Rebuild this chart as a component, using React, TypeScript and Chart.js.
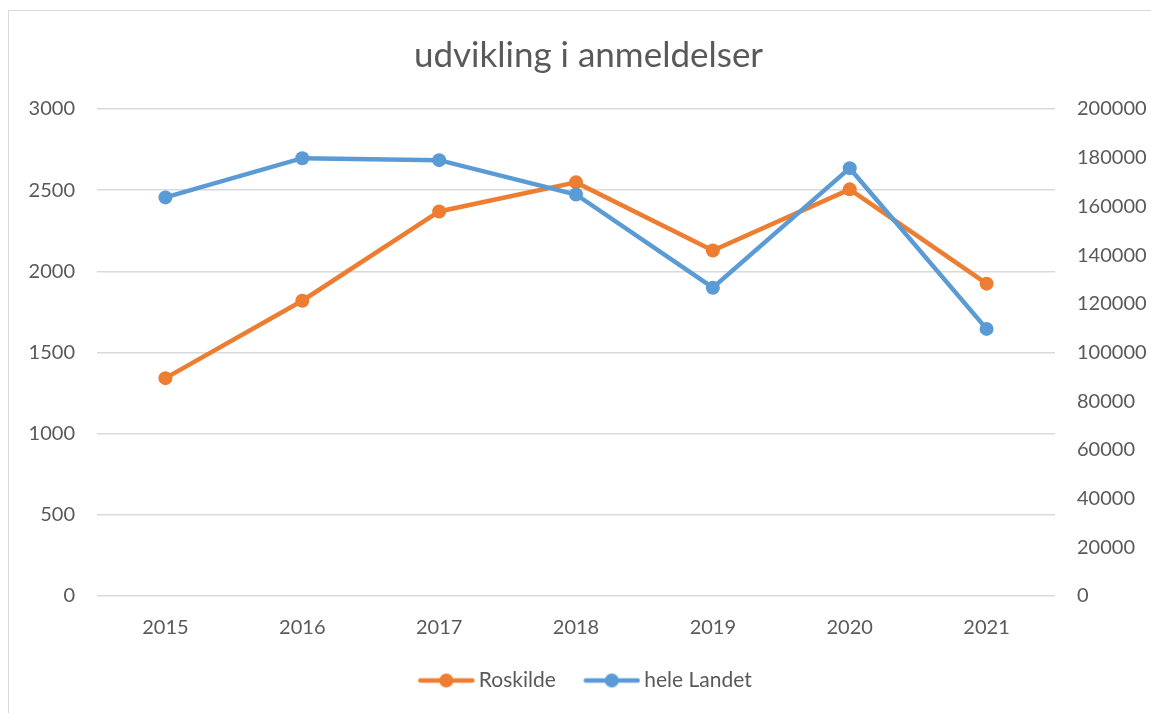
import React, { useEffect, useRef } from "react";
import { Chart, registerables } from "chart.js";

Chart.register(...registerables);

const years = ["2015", "2016", "2017", "2018", "2019", "2020", "2021"];
const roskilde = [1342, 1819, 2369, 2548, 2128, 2505, 1924];
const heleLandet = [163700, 179800, 179000, 164900, 126600, 175700, 109700];
const leftTicks = { min: 0, max: 3000, step: 500 };
const rightTicks = { min: 0, max: 200000, step: 20000 };

const ORANGE = "#ED7D31";
const BLUE = "#5B9BD5";
const TEXT = "#595959";
const GRID = "#D9D9D9";
const FONT = "Lato, 'Open Sans', sans-serif";

const LEG_W = 68;
const LEG_C = LEG_W + 13;

function legendIcon(color: string) {
  const c = document.createElement("canvas");
  c.width = LEG_C;
  c.height = 16;
  const ctx = c.getContext("2d")!;
  const end = LEG_C - 2.5;
  const start = LEG_C - 54.5;
  ctx.strokeStyle = color;
  ctx.lineWidth = 4.5;
  ctx.lineCap = "round";
  ctx.beginPath();
  ctx.moveTo(start, 8);
  ctx.lineTo(end, 8);
  ctx.stroke();
  ctx.fillStyle = color;
  ctx.beginPath();
  ctx.arc((start + end) / 2, 8, 7, 0, Math.PI * 2);
  ctx.fill();
  return c;
}

export default function App() {
  const ref = useRef<HTMLCanvasElement>(null);
  useEffect(() => {
    const icons = [legendIcon(ORANGE), legendIcon(BLUE)];
    const fmt = (v: any) => String(v);
    const chart = new Chart(ref.current!, {
      type: "line",
      data: {
        labels: years,
        datasets: [
          {
            label: "Roskilde",
            data: roskilde,
            yAxisID: "y",
            borderColor: ORANGE,
            backgroundColor: ORANGE,
            borderWidth: 4.5,
            pointRadius: 7,
            pointHoverRadius: 7,
            pointBorderWidth: 0,
            tension: 0,
            order: 1,
          },
          {
            label: "hele Landet",
            data: heleLandet,
            yAxisID: "y1",
            borderColor: BLUE,
            backgroundColor: BLUE,
            borderWidth: 4.5,
            pointRadius: 7,
            pointHoverRadius: 7,
            pointBorderWidth: 0,
            tension: 0,
            order: 0,
          },
        ],
      },
      options: {
        animation: false,
        responsive: false,
        maintainAspectRatio: false,
        layout: { padding: { top: 16, bottom: 12, left: 26, right: 0 } },
        plugins: {
          title: {
            display: true,
            text: "udvikling i anmeldelser",
            color: TEXT,
            font: { family: FONT, size: 35, weight: "normal" },
            padding: { top: 19, bottom: 32 },
          },
          legend: {
            position: "bottom",
            fullSize: false,
            labels: {
              usePointStyle: true,
              pointStyleWidth: LEG_W,
              padding: 10,
              color: TEXT,
              font: { family: FONT, size: 21 },
              generateLabels: (chart: any) =>
                chart.data.datasets.map((ds: any, i: number) => ({
                  text: ds.label,
                  fillStyle: ds.borderColor,
                  strokeStyle: ds.borderColor,
                  lineWidth: 0,
                  pointStyle: icons[i],
                  hidden: false,
                  datasetIndex: i,
                  fontColor: TEXT,
                })),
            },
          },
          tooltip: { enabled: false },
        },
        scales: {
          x: {
            offset: true,
            grid: { display: false },
            border: { display: false },
            ticks: {
              color: TEXT,
              font: { family: FONT, size: 20 },
              padding: 12,
            },
            afterFit: (s: any) => {
              s.height = 64;
            },
          },
          y: {
            position: "left",
            min: leftTicks.min,
            max: leftTicks.max,
            ticks: {
              stepSize: leftTicks.step,
              color: TEXT,
              font: { family: FONT, size: 20 },
              padding: 22,
              callback: fmt,
            },
            grid: { color: GRID, lineWidth: 1.5, drawTicks: false },
            border: { display: false },
            afterFit: (s: any) => {
              s.width = 71;
            },
          },
          y1: {
            position: "right",
            min: rightTicks.min,
            max: rightTicks.max,
            ticks: {
              stepSize: rightTicks.step,
              color: TEXT,
              font: { family: FONT, size: 20 },
              padding: 22,
              callback: fmt,
            },
            grid: { display: false, drawTicks: false },
            border: { display: false },
            afterFit: (s: any) => {
              s.width = 96;
            },
          },
        },
      },
    });
    return () => chart.destroy();
  }, []);

  return (
    <div style={{ position: "fixed", left: 0, top: 0, width: 1151, height: 713, background: "#fff", overflow: "hidden" }}>
      <div
        style={{
          position: "absolute",
          left: 8,
          top: 10,
          width: 1200,
          height: 800,
          borderLeft: "1.5px solid #D9D9D9",
          borderTop: "1.5px solid #D9D9D9",
        }}
      />
      <canvas ref={ref} width={1151} height={713} style={{ position: "absolute", left: 0, top: 0 }} />
    </div>
  );
}
